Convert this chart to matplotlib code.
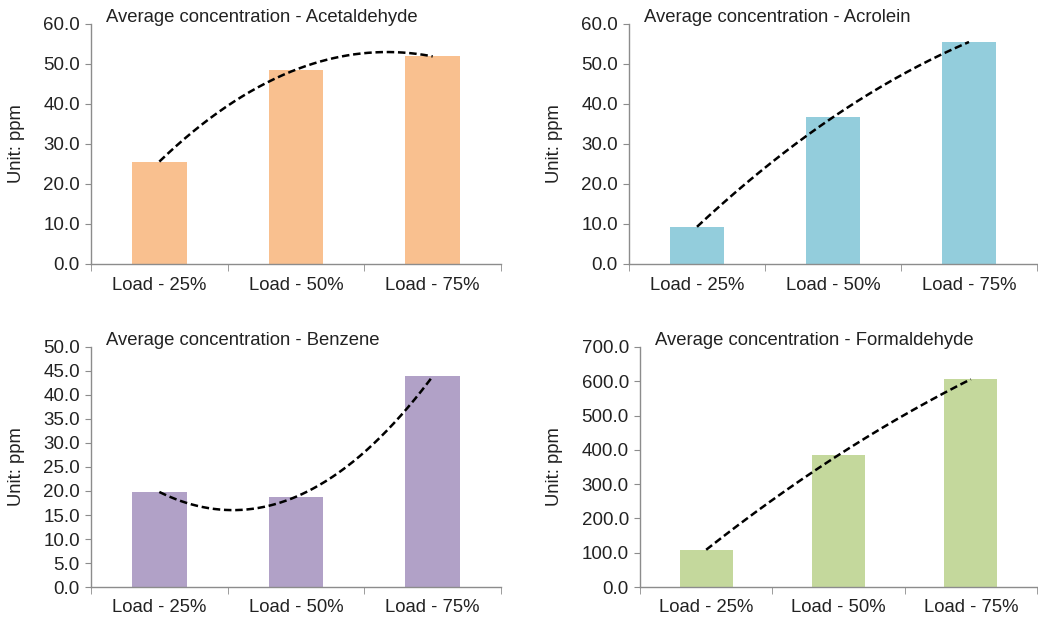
import numpy as np
import matplotlib
matplotlib.use('Agg')
import matplotlib.pyplot as plt

plt.rcParams['font.family'] = ['Liberation Sans', 'DejaVu Sans']

categories = ['Load - 25%', 'Load - 50%', 'Load - 75%']

acetaldehyde = [25.6, 48.6, 51.9]
acrolein = [9.3, 36.7, 55.5]
benzene = [19.8, 18.8, 43.9]
formaldehyde = [108.6, 385.0, 606.0]

titles = ['Average concentration - Acetaldehyde',
          'Average concentration - Acrolein',
          'Average concentration - Benzene',
          'Average concentration - Formaldehyde']

W, H = 1038, 619
# (left, top, right, bottom) in pixels
boxes = [(91, 24, 501, 264), (629, 24, 1037, 264),
         (91, 347, 501, 587), (640, 347, 1037, 587)]
ylims = [(60, 10), (60, 10), (50, 5), (700, 100)]
colors = ['#F9C08F', '#93CDDC', '#B1A1C7', '#C4D89C']
series = [acetaldehyde, acrolein, benzene, formaldehyde]

fig = plt.figure(figsize=(W / 100, H / 100), dpi=100)
x = np.arange(1, len(categories) + 1)

for vals, title, box, (ymax, step), col in zip(series, titles, boxes, ylims, colors):
    l, t, r, b = box
    ax = fig.add_axes([l / W, 1 - b / H, (r - l) / W, (b - t) / H])
    ax.bar(x, vals, width=0.4, color=col, zorder=2)

    # polynomial (order 2) trendline, as in the spreadsheet chart
    coef = np.polyfit(x, vals, 2)
    xs = np.linspace(x[0], x[-1], 200)
    ax.plot(xs, np.polyval(coef, xs), color='black', lw=1.8,
            dashes=(3, 1.5), zorder=3)

    ax.set_xlim(0.5, len(categories) + 0.5)
    ax.set_ylim(0, ymax)
    yt = np.arange(0, ymax + step / 2, step)
    ax.set_yticks(yt)
    ax.set_yticklabels([f'{v:.1f}' for v in yt])
    ax.set_xticks(x)
    ax.set_xticklabels(categories)
    ax.set_xticks(np.arange(0.5, len(categories) + 1, 1.0), minor=True)

    for s in ['top', 'right']:
        ax.spines[s].set_visible(False)
    for s in ['left', 'bottom']:
        ax.spines[s].set_color('#8c8c8c')
        ax.spines[s].set_linewidth(1.0)

    ax.tick_params(axis='x', which='major', length=0, pad=9, labelsize=13.3,
                   labelcolor='#222222')
    ax.tick_params(axis='x', which='minor', length=5, color='#8c8c8c')
    ax.tick_params(axis='y', length=4, color='#8c8c8c', pad=4, labelsize=13.5,
                   labelcolor='#222222')

    ax.set_ylabel('Unit: ppm', fontsize=13.3, color='#222222')
    off = 77 if l == 640 else 66
    ax.yaxis.set_label_coords(-off / (r - l), 0.5)

    ax.annotate(title, xy=(0, 1), xycoords='axes fraction', xytext=(15, 2),
                textcoords='offset pixels', ha='left', va='baseline',
                fontsize=13.3, color='#222222')

fig.savefig('out.png', dpi=100)
